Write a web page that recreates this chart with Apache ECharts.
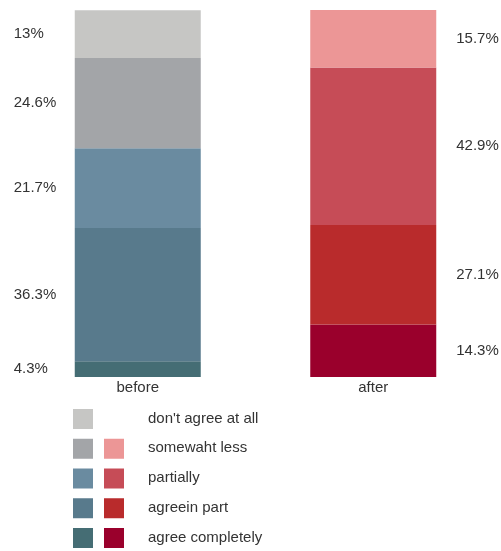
<!DOCTYPE html>
<html>
<head>
<meta charset="utf-8">
<script src="https://cdn.jsdelivr.net/npm/echarts@6/dist/echarts.min.js"></script>
<style>
  html, body { margin: 0; padding: 0; background: #ffffff; }
  #chart { width: 501px; height: 551px; }
</style>
</head>
<body>
<div id="chart"></div>
<script>
// ---- data ----
var categories = ['before', 'after'];
var levels = ["don't agree at all", 'somewaht less', 'partially', 'agreein part', 'agree completely'];
var beforeValues = [13, 24.6, 21.7, 36.3, 4.3];
var afterValues = [null, 15.7, 42.9, 27.1, 14.3];
var beforeColors = ['#c6c6c4', '#a3a5a8', '#6a8ba0', '#587a8c', '#456d74'];
var afterColors = [null, '#ec9696', '#c64c57', '#b92b2c', '#9a002c'];

var FONT = '"Liberation Sans", Arial, Helvetica, sans-serif';
var TEXT = '#333333';

// stack from bottom: reverse the level order
var series = [];
for (var k = levels.length - 1; k >= 0; k--) {
  var data = [];
  data.push({
    value: beforeValues[k],
    itemStyle: { color: beforeColors[k] },
    label: { show: true, position: 'left', distance: 61, align: 'left' }
  });
  if (afterValues[k] == null) {
    data.push('-');
  } else {
    data.push({
      value: afterValues[k],
      itemStyle: { color: afterColors[k] },
      label: { show: true, position: 'right', distance: 20, align: 'left' }
    });
  }
  series.push({
    name: levels[k],
    type: 'bar',
    stack: 'total',
    barWidth: 126,
    data: data,
    label: {
      formatter: function (p) { return p.value + '%'; },
      fontFamily: FONT, fontSize: 15, color: TEXT
    },
    emphasis: { disabled: true }
  });
}

// legend drawn as graphic: two columns of swatches, one text column
var graphics = [];
var rowTop = 409, rowStep = 29.75;
for (var i = 0; i < levels.length; i++) {
  var y = rowTop + i * rowStep;
  if (beforeColors[i]) {
    graphics.push({ type: 'rect', left: 73, top: y, shape: { width: 20, height: 20 }, style: { fill: beforeColors[i] } });
  }
  if (afterColors[i]) {
    graphics.push({ type: 'rect', left: 104, top: y, shape: { width: 20, height: 20 }, style: { fill: afterColors[i] } });
  }
  graphics.push({
    type: 'text', left: 148, top: y + 2,
    style: { text: levels[i], fontFamily: FONT, fontSize: 15, fill: TEXT }
  });
}

var chart = echarts.init(document.getElementById('chart'), null, { renderer: 'canvas' });
chart.setOption({
  animation: false,
  backgroundColor: '#ffffff',
  grid: { left: 20, top: 10, width: 471, height: 367 },
  xAxis: {
    type: 'category',
    data: categories,
    axisLine: { show: false },
    axisTick: { show: false },
    axisLabel: { margin: 3, fontFamily: FONT, fontSize: 15, color: TEXT }
  },
  yAxis: {
    type: 'value', min: 0, max: 100,
    show: false
  },
  series: series,
  graphic: graphics
});
</script>
</body>
</html>
